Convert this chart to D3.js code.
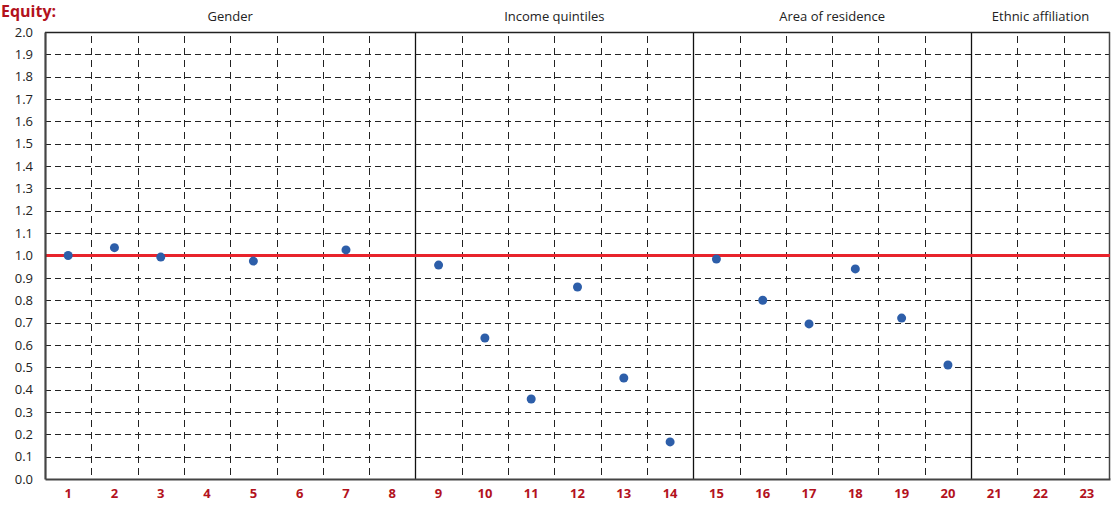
<!DOCTYPE html>
<html>
<head>
<meta charset="utf-8">
<script src="https://cdn.jsdelivr.net/npm/d3@7"></script>
<style>
body { margin: 0; background: #fff; }
svg { font-family: "Open Sans", "Noto Sans", sans-serif; }
</style>
</head>
<body>
<div id="chart"></div>
<script>
var svgWidth = 1113;
var svgHeight = 505;

var margin = { top: 32, right: 3, bottom: 26, left: 45 };
var width = svgWidth - margin.left - margin.right;
var height = svgHeight - margin.top - margin.bottom;

// data
var categories = d3.range(1, 24).map(String);
var values = [1.0, 1.035, 0.993, null, 0.975, null, 1.025, null,
              0.957, 0.631, 0.358, 0.859, 0.452, 0.166,
              0.984, 0.80, 0.694, 0.94, 0.72, 0.51,
              null, null, null];
var groupNames = ["Gender", "Income quintiles", "Area of residence", "Ethnic affiliation"];
var groupStarts = ["1", "9", "15", "21"];
var groupEnds = ["8", "14", "20", "23"];
var yTicks = d3.range(0, 21).map(function(d) { return d / 10; });
var refValue = 1.0;

var svg = d3.select("#chart")
    .append("svg")
    .attr("width", svgWidth)
    .attr("height", svgHeight);

svg.append("text")
    .attr("x", 1)
    .attr("y", 17)
    .style("font-size", "16px")
    .style("font-weight", "bold")
    .style("fill", "#b3121d")
    .text("Equity:");

var chart = svg.append("g")
    .attr("transform", "translate(" + margin.left + "," + margin.top + ")");

var x = d3.scaleBand().domain(categories).range([0, width]).padding(0);
var y = d3.scaleLinear().domain([0, 2]).range([height, 0]);

// horizontal dashed grid
chart.append("g")
    .selectAll("line")
    .data(yTicks.slice(1, -1))
    .enter().append("line")
    .attr("x1", 0)
    .attr("x2", width)
    .attr("y1", function(d) { return Math.round(y(d)) + 0.5; })
    .attr("y2", function(d) { return Math.round(y(d)) + 0.5; })
    .attr("stroke", "#222")
    .attr("stroke-dasharray", "6,4");

// vertical dashed grid at category boundaries
var boundaries = categories.slice(1).filter(function(c) {
    return groupStarts.indexOf(c) < 0;
});
chart.append("g")
    .selectAll("line")
    .data(boundaries)
    .enter().append("line")
    .attr("x1", function(d) { return Math.round(x(d)) + 0.5; })
    .attr("x2", function(d) { return Math.round(x(d)) + 0.5; })
    .attr("y1", 0)
    .attr("y2", height)
    .attr("stroke", "#222")
    .attr("stroke-dasharray", "7,5")
    .attr("stroke-dashoffset", -4);

// solid group separators
chart.append("g")
    .selectAll("line")
    .data(groupStarts.slice(1))
    .enter().append("line")
    .attr("x1", function(d) { return Math.round(x(d)) + 0.5; })
    .attr("x2", function(d) { return Math.round(x(d)) + 0.5; })
    .attr("y1", 0)
    .attr("y2", height)
    .attr("stroke", "#111")
    .attr("stroke-width", 1.3);

// frame: top and right thin, left and bottom thicker
chart.append("line")
    .attr("x1", 0).attr("x2", width)
    .attr("y1", 0.5).attr("y2", 0.5)
    .attr("stroke", "#222").attr("stroke-width", 1.3);
chart.append("line")
    .attr("x1", width - 0.5).attr("x2", width - 0.5)
    .attr("y1", 0).attr("y2", height)
    .attr("stroke", "#444").attr("stroke-width", 1.5);

// group titles
chart.append("g")
    .selectAll("text")
    .data(groupNames)
    .enter().append("text")
    .attr("x", function(d, i) {
        return (x(groupStarts[i]) + x(groupEnds[i]) + x.bandwidth()) / 2;
    })
    .attr("y", -11)
    .attr("text-anchor", "middle")
    .style("font-size", "13px")
    .style("fill", "#222")
    .text(function(d) { return d; });

// reference line at 1.0
chart.append("line")
    .attr("x1", 0)
    .attr("x2", width)
    .attr("y1", y(refValue))
    .attr("y2", y(refValue))
    .attr("stroke", "#e8232b")
    .attr("stroke-width", 2.8);

// y axis
var leftAxis = d3.axisLeft(y)
    .tickValues(yTicks)
    .tickSize(0)
    .tickPadding(12)
    .tickFormat(d3.format(".1f"));

var yAxis = chart.append("g").call(leftAxis);
yAxis.select(".domain").attr("stroke", "#444").attr("stroke-width", 2.2);
yAxis.selectAll("text")
    .style("font-size", "13px")
    .style("font-family", "'Open Sans', 'Noto Sans', sans-serif")
    .style("fill", "#222");

// x axis
var bottomAxis = d3.axisBottom(x).tickSize(0).tickPadding(10);
var xAxis = chart.append("g")
    .attr("transform", "translate(0," + height + ")")
    .call(bottomAxis);
xAxis.select(".domain").attr("stroke", "#444").attr("stroke-width", 2.2);
xAxis.selectAll("text")
    .style("font-size", "13px")
    .style("font-weight", "bold")
    .style("font-family", "'Open Sans', 'Noto Sans', sans-serif")
    .style("fill", "#b3121d");

// points
var points = categories.map(function(c, i) { return { cat: c, value: values[i] }; })
    .filter(function(d) { return d.value !== null; });

chart.append("g")
    .selectAll("circle")
    .data(points)
    .enter().append("circle")
    .attr("cx", function(d) { return x(d.cat) + x.bandwidth() / 2; })
    .attr("cy", function(d) { return y(d.value); })
    .attr("r", 4.5)
    .attr("fill", "#2d5ea9");
</script>
</body>
</html>
